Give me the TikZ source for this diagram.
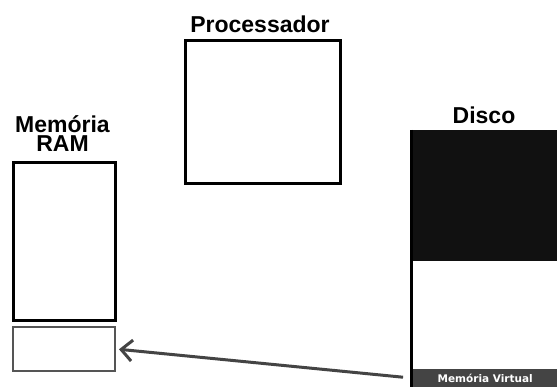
\documentclass[tikz,border=0pt]{standalone}
\usepackage{fontspec}
\setmainfont{Liberation Sans}
\newfontfamily\barfont{DejaVu Sans}
\usetikzlibrary{arrows.meta}
\definecolor{ink}{HTML}{111111}
\definecolor{edgegray}{HTML}{555555}
\definecolor{bargray}{HTML}{444444}
\definecolor{arrowgray}{HTML}{444444}
\begin{document}
\begin{tikzpicture}[x=1pt,y=-1pt,
  title/.style={font=\fontsize{23}{18.5}\selectfont\bfseries, align=center, inner sep=0pt, anchor=base},
  box/.style={draw=black, line width=3pt, fill=white, inner sep=0pt, anchor=north west},
  swapbox/.style={draw=edgegray, line width=2.5pt, fill=white, inner sep=0pt, anchor=north west},
  barlabel/.style={fill=bargray, text=white, font=\barfont\fontsize{10.5}{12}\selectfont\bfseries, inner sep=0pt, anchor=north west},
  link/.style={draw=arrowgray, line width=3pt, -{Straight Barb[length=11pt,width=21pt]}}]
\useasboundingbox (0,0) rectangle (557,387);
\fill[white] (0,0) rectangle (557,387);

% processor
\node[box, minimum width=155pt, minimum height=143pt] (cpu) at (183.5,39.5) {};
\node[title] (cputitle) at (260,32.5) {Processador};

% main memory and the swap area below it
\node[box, minimum width=102pt, minimum height=157.5pt] (ram) at (11.5,161.5) {};
\node[swapbox, minimum width=102pt, minimum height=43.5pt] (swap) at (11.5,326) {};
\node[title] (ramtitle) at (62.5,151.5) {Memória\\RAM};

% disk
\node[fill=ink, inner sep=0pt, anchor=north west, minimum width=146pt, minimum height=131pt] (disk) at (411.5,130) {};
\node[barlabel, minimum width=144pt, minimum height=18pt] (vbar) at (413,369) {Memória Virtual};
\draw[line width=3pt] (disk.north west) -- (disk.north west |- vbar.south);
\node[title] (disktitle) at (484,124) {Disco};

% page moved from disk to memory
\draw[link, shorten <=10pt, shorten >=3pt] (vbar.west) -- (swap.east);
\end{tikzpicture}
\end{document}
